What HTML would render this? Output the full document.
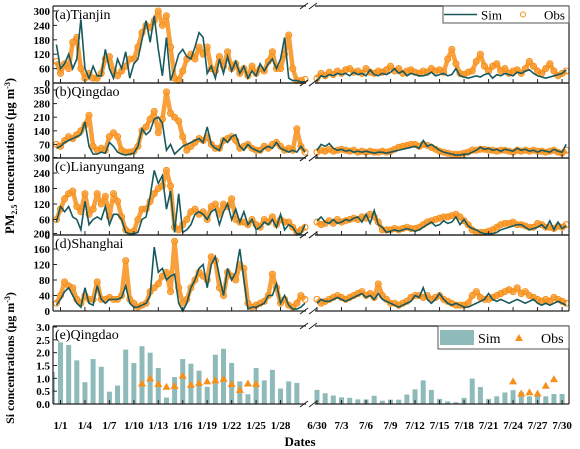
<!DOCTYPE html>
<html><head><meta charset="utf-8"><style>
body{margin:0;background:#fff}
svg{display:block;font-family:"Liberation Serif",serif}
.tk{font-size:11px;font-weight:bold;text-anchor:end}
.xl{font-size:11px;font-weight:bold;text-anchor:middle}
.pl{font-size:14px}
</style></head><body>
<svg id="chart" width="580" height="449" viewBox="0 0 580 449">
<text x="14" y="156" transform="rotate(-90 14 156)" text-anchor="middle" font-size="12.5" font-weight="bold">PM<tspan font-size="8" dy="3">2.5</tspan><tspan dy="-3"> concentrations (μg m</tspan><tspan font-size="8" dy="-4">-3</tspan><tspan dy="4">)</tspan></text>
<text x="14" y="358" transform="rotate(-90 14 358)" text-anchor="middle" font-size="12" font-weight="bold">Si concentrations (μg m<tspan font-size="8" dy="-4">-3</tspan><tspan dy="4">)</tspan></text>
<text x="300" y="446" text-anchor="middle" font-size="13" font-weight="bold">Dates</text>
<g id="g"></g>
</svg>
<script>
// Left window (Jan), 2 pts/day from day -0.5 (1/1 = day 0)
const aSimL=[160,60,80,120,60,100,265,60,20,70,30,30,140,60,20,100,60,130,20,80,100,180,260,170,280,140,30,190,10,60,120,140,110,100,150,210,190,40,70,20,100,40,110,50,90,40,70,20,50,30,80,50,80,100,60,100,190,20,10,10,5,5];
const aObsL=[90,40,80,60,170,190,60,20,40,20,20,40,100,110,50,30,50,70,100,100,150,210,240,230,260,300,240,280,150,20,10,50,100,120,100,150,120,150,60,50,110,70,130,60,80,40,60,30,70,40,60,50,90,130,60,60,120,200,60,10,10,15];
const bSimL=[50,60,80,90,100,110,120,185,60,20,20,30,25,80,60,30,20,15,20,25,60,150,120,140,200,210,180,40,70,20,40,60,70,80,90,100,80,160,70,50,40,100,80,110,120,60,40,70,50,40,30,50,60,50,80,50,40,30,40,30,60,30];
const bObsL=[70,60,90,110,100,120,140,170,220,60,40,50,40,110,130,110,40,30,30,35,60,140,160,200,240,130,200,340,230,210,190,110,40,60,80,100,90,110,70,50,50,90,100,110,90,50,60,70,50,40,40,60,50,70,80,60,40,50,40,150,60,30];
const cSimL=[50,110,90,110,70,60,20,130,40,60,70,60,110,40,80,80,60,10,5,5,10,60,70,150,250,200,230,100,170,10,160,10,20,40,80,90,80,60,90,100,40,90,120,60,100,50,90,40,60,20,30,50,40,60,30,80,20,40,30,5,5,40];
const cObsL=[60,100,140,160,170,110,90,160,80,100,160,120,150,70,160,130,70,20,10,15,60,100,100,130,160,180,190,250,190,30,20,40,60,90,100,80,90,60,110,120,80,120,110,140,60,50,50,40,60,40,30,60,50,70,40,60,50,50,30,10,20,30];
const dSimL=[15,30,50,60,40,20,10,60,20,15,65,30,20,30,30,30,35,65,20,10,10,15,20,40,165,100,110,80,90,95,20,0,20,60,80,110,120,60,120,140,90,40,110,80,100,160,80,5,10,10,15,20,40,40,70,20,40,15,5,5,10,20];
const dObsL=[20,40,75,65,60,30,20,40,30,30,75,30,30,35,30,30,40,130,30,20,10,15,20,50,60,70,90,100,50,180,60,20,30,60,80,100,90,80,140,130,60,40,100,90,80,120,110,20,10,15,20,25,40,95,60,20,30,15,10,20,40,30];
// Right window (Jul), 2 pts/day from 6/30 (k = 0)
const aSimR=[10,30,25,35,30,40,35,40,30,45,35,40,30,55,35,30,40,35,45,60,40,50,30,40,35,30,30,35,45,30,35,40,30,35,60,30,25,20,25,30,25,35,40,20,35,30,40,35,30,45,40,50,55,40,30,25,20,25,30,35,40,55];
const aObsR=[20,40,30,45,35,50,40,55,60,45,50,40,60,45,40,50,45,55,70,50,60,40,50,55,45,40,50,45,60,50,55,45,100,140,80,40,35,45,50,90,120,70,50,70,80,50,60,40,50,55,40,60,90,70,50,40,60,80,50,30,40,50];
const bSimR=[40,70,60,75,50,40,45,35,40,30,35,30,35,30,25,30,30,25,30,35,40,45,50,55,60,50,90,60,70,55,40,30,25,20,15,15,20,20,30,40,55,45,50,40,45,35,45,40,35,50,40,45,35,40,30,40,35,30,45,35,30,70];
const bObsR=[30,40,35,45,35,40,45,40,35,40,30,35,30,35,30,30,35,30,35,45,55,60,65,70,70,60,70,65,55,45,35,30,25,20,20,20,25,30,40,40,45,45,40,40,35,40,40,35,30,40,35,40,35,40,35,35,30,35,40,30,25,40];
const cSimR=[55,70,50,45,60,45,50,60,55,65,70,50,80,45,95,40,30,10,15,20,15,20,25,20,15,20,30,40,50,35,40,55,45,50,70,40,60,35,25,20,10,5,5,5,10,20,25,30,35,40,40,30,20,25,30,40,25,55,20,50,25,35];
const cObsR=[50,40,45,55,45,60,50,55,60,65,60,70,65,80,70,50,20,20,20,25,20,25,30,25,25,30,40,50,55,60,65,70,70,75,80,70,55,40,20,10,10,10,15,20,30,40,45,45,50,40,40,35,30,30,45,40,30,30,25,35,30,40];
const dSimR=[20,30,25,25,30,35,30,25,30,35,40,45,35,40,30,45,30,25,20,15,10,15,20,25,40,35,60,30,20,30,45,30,20,15,20,15,10,10,15,20,25,30,45,30,25,30,25,20,25,30,25,20,25,30,20,15,20,15,20,25,20,15];
const dObsR=[30,20,25,30,35,40,35,30,35,40,45,50,40,45,35,70,40,30,20,20,15,20,25,35,40,40,35,40,30,35,40,30,25,20,15,15,15,20,40,50,35,30,30,35,40,45,50,55,50,60,45,50,40,35,30,25,30,25,35,30,25,20];
// Si daily bars
const siSimL=[1.25,2.4,2.3,1.7,0.85,1.75,1.45,0.48,0.72,2.12,1.6,2.25,2.0,1.4,0.25,1.05,1.75,1.57,1.3,0.67,1.92,2.15,1.6,0.88,0.38,1.4,0.92,1.33,0.6,0.88,0.82];
const siObsDaysL=[10,11,12,13,14,15,16,17,18,19,20,21,22,23,24];
const siObsL=[0.8,1.0,0.78,0.67,0.7,1.1,0.75,0.82,0.88,0.92,0.98,0.78,0.55,0.8,0.78];
const siSimR=[0.55,0.42,0.33,0.26,0.24,0.18,0.18,0.32,0.13,0.17,0.17,0.37,0.57,0.92,0.55,0.2,0.1,0.07,0.24,0.99,0.66,0.2,0.3,0.45,0.54,0.47,0.3,0.3,0.3,0.39,0.39];
const siObsDaysR=[24,25,26,27,28,29];
const siObsR=[0.88,0.41,0.46,0.41,0.71,0.97];
const labelsL=['1/1','1/4','1/7','1/10','1/13','1/16','1/19','1/22','1/25','1/28'];
const labelsR=['6/30','7/3','7/6','7/9','7/12','7/15','7/18','7/21','7/24','7/27','7/30'];

const NS='http://www.w3.org/2000/svg';
const G=document.getElementById('g');
function mk(t,a,p){const e=document.createElementNS(NS,t);for(const k in a)e.setAttribute(k,a[k]);(p||G).appendChild(e);return e;}
const xL=t=>60.5+8.15*t, xR=k=>317+8.17*k;
const L0=53,L1=306,R0=315,R1=569;
const SIM='#17595d', OBS='#f7901a', BAR='#8fbaba';
const panels=[
 {n:'a',lab:'(a)Tianjin',top:6,y0:83,max:300,ppu:72/300,ticks:[0,60,120,180,240,300],sl:aSimL,ol:aObsL,sr:aSimR,or:aObsR},
 {n:'b',lab:'(b)Qingdao',top:83,y0:158,max:350,ppu:68/350,ticks:[0,70,140,210,280,350],sl:bSimL,ol:bObsL,sr:bSimR,or:bObsR},
 {n:'c',lab:'(c)Lianyungang',top:158,y0:235,max:300,ppu:77.5/300,ticks:[0,60,120,180,240,300],sl:cSimL,ol:cObsL,sr:cSimR,or:cObsR},
 {n:'d',lab:'(d)Shanghai',top:235,y0:311,max:200,ppu:62/160,ticks:[0,40,80,120,160,200],sl:dSimL,ol:dObsL,sr:dSimR,or:dObsR}
];
function frame(top,y0,name){
  const g=mk('g',{});
  
  
  const st={stroke:'#222','stroke-width':1.2,fill:'none'};
  mk('line',Object.assign({x1:L0,y1:top,x2:L0,y2:y0},st),g);
  mk('line',Object.assign({x1:R1,y1:top,x2:R1,y2:y0},st),g);
  mk('line',Object.assign({x1:L0,y1:top,x2:L1,y2:top},st),g);
  mk('line',Object.assign({x1:R0,y1:top,x2:R1,y2:top},st),g);
  mk('line',Object.assign({x1:L0,y1:y0,x2:L1,y2:y0},st),g);
  mk('line',Object.assign({x1:R0,y1:y0,x2:R1,y2:y0},st),g);
  [L1-3,R0-3].forEach(bx=>{mk('line',{x1:bx-3,y1:y0+3,x2:bx+5,y2:y0-3,stroke:'#222','stroke-width':1},g);
    mk('line',{x1:bx-3,y1:top+3,x2:bx+5,y2:top-3,stroke:'#222','stroke-width':1},g);});
  for(let i=0;i<labelsL.length;i++)mk('line',{x1:xL(i*3),y1:y0,x2:xL(i*3),y2:y0-4,stroke:'#222'},g);
  for(let i=0;i<labelsR.length;i++)mk('line',{x1:xR(i*3),y1:y0,x2:xR(i*3),y2:y0-4,stroke:'#222'},g);
}
function series(vals,xf,start,yf,lo,hi,name,sim){
  const pts=[];
  vals.forEach((v,i)=>{const x=xf(start+i*0.5);if(x>=lo&&x<=hi)pts.push([x,yf(v)]);});
  const g=mk('g',{});
  
  
  if(sim){mk('polyline',{points:pts.map(p=>p.join(',')).join(' '),fill:'none',stroke:SIM,'stroke-width':1.6},g);}
  else{
    mk('polyline',{points:pts.map(p=>p.join(',')).join(' '),fill:'none',stroke:OBS,'stroke-width':4.5,'stroke-opacity':0.85,'stroke-linejoin':'round'},g);
    pts.forEach(p=>mk('circle',{cx:p[0],cy:p[1],r:3,fill:'none',stroke:OBS,'stroke-width':1.1},g));
  }
}
panels.forEach(P=>{
  const yf=v=>P.y0-v*P.ppu;
  series(P.ol,xL,-0.5,yf,L0,L1,'obs-left-'+P.n,false);
  series(P.sl,xL,-0.5,yf,L0,L1,'sim-left-'+P.n,true);
  series(P.or,xR,0,yf,R0,R1,'obs-right-'+P.n,false);
  series(P.sr,xR,0,yf,R0,R1,'sim-right-'+P.n,true);
  frame(P.top,P.y0,'panel-'+P.n);
  P.ticks.forEach(t=>{
    const y=yf(t);
    const l=mk('line',{x1:L0,y1:y,x2:L0+4,y2:y,stroke:'#222'});
    
    
    const tx=mk('text',{x:50,y:y+4,class:'tk'});tx.textContent=t;
    
    
  });
  const pl=mk('text',{x:55,y:P.top+13,class:'pl'});pl.textContent=P.lab;
  
  
});
// Panel e
const eTop=326,eY0=404,ePpu=77/3;
const ey=v=>eY0-v*ePpu;
siSimL.forEach((v,i)=>{const x=xL(i-1);const w=5;const x0=Math.max(L0+0.5,x-w/2);
  const r=mk('rect',{x:x0,y:ey(v),width:x+w/2-x0,height:v*ePpu,fill:BAR});
  
  });
siSimR.forEach((v,i)=>{const x=xR(i);
  const r=mk('rect',{x:x-2.5,y:ey(v),width:5,height:v*ePpu,fill:BAR});
  
  });
function tri(x,y,name){const t=mk('polygon',{points:`${x-4},${y+3} ${x+4},${y+3} ${x},${y-4}`,fill:OBS});
  
  }
siObsL.forEach((v,i)=>tri(xL(siObsDaysL[i]),ey(v),'si-obs-jan'));
siObsR.forEach((v,i)=>tri(xR(siObsDaysR[i]),ey(v),'si-obs-jul'));
frame(eTop,eY0,'panel-e');
[0,0.5,1,1.5,2,2.5,3].forEach(t=>{const y=ey(t);
  mk('line',{x1:L0,y1:y,x2:L0+4,y2:y,stroke:'#222'});
  const tx=mk('text',{x:50,y:y+4,class:'tk'});tx.textContent=t.toFixed(1);
  
  });
const pe=mk('text',{x:55,y:339,class:'pl'});pe.textContent='(e)Qingdao';


labelsL.forEach((s,i)=>{const t=mk('text',{x:xL(i*3),y:429,class:'xl'});t.textContent=s;
  
  });
labelsR.forEach((s,i)=>{const t=mk('text',{x:xR(i*3),y:429,class:'xl'});t.textContent=s;
  
  });
// Legends
const lg1=mk('g',{});


mk('rect',{x:443,y:6,width:126,height:17,fill:'#fff',stroke:'#555'},lg1);
mk('line',{x1:444,y1:14.5,x2:477,y2:14.5,stroke:SIM,'stroke-width':1.6},lg1);
let t1=mk('text',{x:481,y:19.5,'font-size':13},lg1);t1.textContent='Sim';
mk('circle',{cx:523,cy:14.5,r:2.5,fill:'none',stroke:OBS},lg1);
let t2=mk('text',{x:544,y:19.5,'font-size':13},lg1);t2.textContent='Obs';
const lg2=mk('g',{});


mk('rect',{x:438,y:326,width:131,height:23,fill:'#fff',stroke:'#555'},lg2);
mk('rect',{x:440,y:330,width:34,height:15,fill:BAR},lg2);
let t3=mk('text',{x:478,y:343,'font-size':14},lg2);t3.textContent='Sim';
mk('polygon',{points:'515,341 523,341 519,334',fill:OBS},lg2);
let t4=mk('text',{x:541,y:343,'font-size':14},lg2);t4.textContent='Obs';
</script>
</body></html>
